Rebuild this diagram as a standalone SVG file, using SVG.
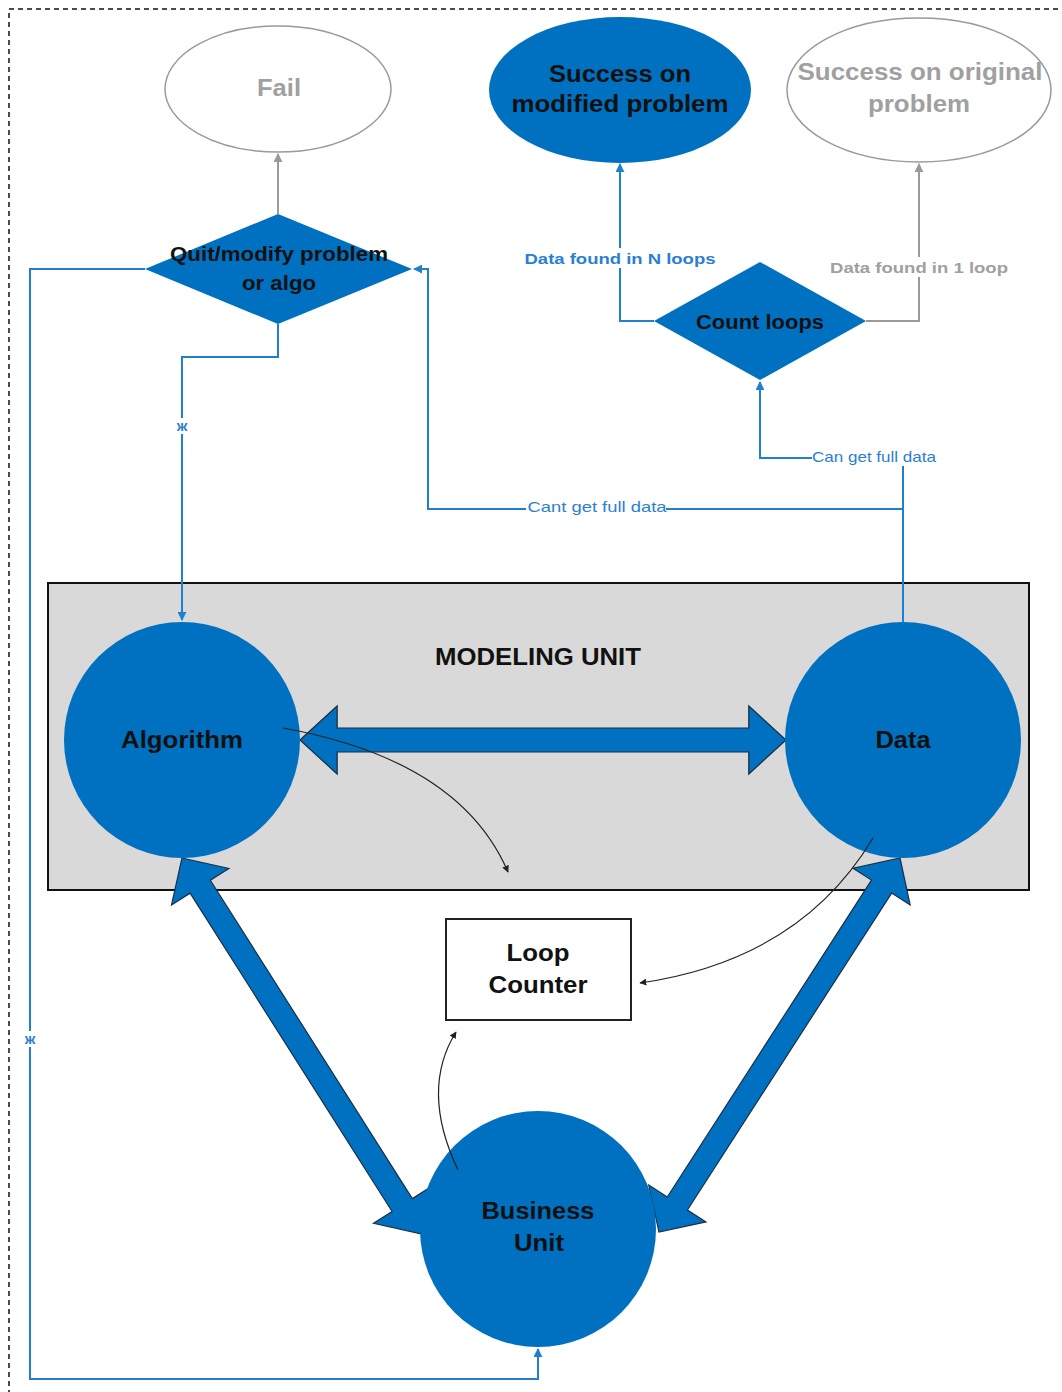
<svg xmlns="http://www.w3.org/2000/svg" width="1062" height="1392" viewBox="0 0 1062 1392">
  <defs>
    <style>
      .t { font-family: "Liberation Sans", Arial, sans-serif; font-weight: bold; text-anchor: middle; }
      .big { font-size: 23px; fill: #111; }
      .mid { font-size: 20px; fill: #111; }
      .grey { fill: #a0a0a0; }
      .lbl { font-family: "Liberation Sans", Arial, sans-serif; text-anchor: middle; font-size: 15px; fill: #2a7fd4; }
      .lblg { fill: #a0a0a0; }
      .blue { fill: #0070c0; }
      .open { fill: #fff; stroke: #9a9a9a; stroke-width: 1.5; }
      .wire { fill: none; stroke: #2080d0; stroke-width: 2; }
      .wireg { fill: none; stroke: #9a9a9a; stroke-width: 2; }
      .thin { fill: none; stroke: #222; stroke-width: 1.2; }
      .fat { fill: #0070c0; stroke: #1b2f45; stroke-width: 1.2; stroke-linejoin: miter; }
      .bg { fill: #fff; }
    </style>
    <marker id="ab" viewBox="0 0 10 10" refX="9" refY="5" markerWidth="9" markerHeight="9" markerUnits="userSpaceOnUse" orient="auto">
      <path d="M0,0 L10,5 L0,10 z" fill="#2080d0"/>
    </marker>
    <marker id="ag" viewBox="0 0 10 10" refX="9" refY="5" markerWidth="9" markerHeight="9" markerUnits="userSpaceOnUse" orient="auto">
      <path d="M0,0 L10,5 L0,10 z" fill="#9a9a9a"/>
    </marker>
    <marker id="ak" viewBox="0 0 10 10" refX="9" refY="5" markerWidth="7" markerHeight="7" markerUnits="userSpaceOnUse" orient="auto">
      <path d="M0,0 L10,5 L0,10 z" fill="#222"/>
    </marker>
    <!-- double-headed block arrow of length 445 along +x -->
    <polygon id="dbl445" points="0,0 34,-34 34,-12 411,-12 411,-34 445,0 411,34 411,12 34,12 34,34"/>
  </defs>

  <!-- page frame -->
  <rect x="9" y="9" width="1100" height="1420" fill="none" stroke="#111" stroke-width="1.5" stroke-dasharray="5,4"/>

  <!-- modeling unit container -->
  <g id="modeling-unit">
    <rect x="48" y="583" width="981" height="307" fill="#d9d9d9" stroke="#111" stroke-width="2"/>
    <text class="t big" x="538" y="665" textLength="206" lengthAdjust="spacingAndGlyphs">MODELING UNIT</text>
  </g>

  <!-- connectors -->
  <g id="connectors">
    <!-- quit -> fail -->
    <path class="wireg" d="M278,214 L278,154" marker-end="url(#ag)"/>
    <!-- quit -> algorithm -->
    <path class="wire" d="M278,324 L278,357 L182,357 L182,620" marker-end="url(#ab)"/>
    <!-- quit -> business unit -->
    <path class="wire" d="M145,269 L30,269 L30,1379 L538,1379 L538,1349" marker-end="url(#ab)"/>
    <!-- data -> quit (cant get full data) -->
    <path class="wire" d="M903,622 L903,509 L428,509 L428,269 L414,269" marker-end="url(#ab)"/>
    <!-- data -> count loops (can get full data) -->
    <path class="wire" d="M903,509 L903,458 L760,458 L760,382" marker-end="url(#ab)"/>
    <!-- count loops -> success on modified -->
    <path class="wire" d="M654,321 L620,321 L620,164" marker-end="url(#ab)"/>
    <!-- count loops -> success on original -->
    <path class="wireg" d="M866,321 L919,321 L919,164" marker-end="url(#ag)"/>

    <!-- labels -->
    <rect class="bg" x="174" y="418" width="16" height="16"/>
    <text class="lbl" x="182" y="431" font-weight="bold" font-size="14">ж</text>
    <rect class="bg" x="22" y="1031" width="16" height="16"/>
    <text class="lbl" x="30" y="1044" font-weight="bold" font-size="14">ж</text>
    <rect class="bg" x="526" y="498" width="140" height="18"/>
    <text class="lbl" x="597" y="512" textLength="139" lengthAdjust="spacingAndGlyphs">Cant get full data</text>
    <rect class="bg" x="812" y="449" width="125" height="17"/>
    <text class="lbl" x="874" y="462" font-size="14" textLength="124" lengthAdjust="spacingAndGlyphs">Can get full data</text>
    <rect class="bg" x="524" y="248" width="193" height="20"/>
    <text class="lbl" x="620" y="264" font-weight="bold" font-size="16" textLength="191" lengthAdjust="spacingAndGlyphs">Data found in N loops</text>
    <rect class="bg" x="829" y="257" width="180" height="20"/>
    <text class="lbl lblg" x="919" y="273" font-weight="bold" font-size="16" textLength="178" lengthAdjust="spacingAndGlyphs">Data found in 1 loop</text>

    <!-- block arrows -->
    <use href="#dbl445" class="fat" transform="translate(300,740) scale(1.092,1)"/>
    <use href="#dbl445" class="fat" transform="translate(182,858) rotate(57.6)"/>
    <use href="#dbl445" class="fat" transform="translate(900,858) rotate(122.8)"/>
  </g>

  <!-- outcome nodes -->
  <g id="fail">
    <ellipse class="open" cx="278" cy="89" rx="113" ry="63"/>
    <text class="t big grey" x="279" y="96" textLength="44" lengthAdjust="spacingAndGlyphs">Fail</text>
  </g>
  <g id="success-modified">
    <ellipse class="blue" cx="620" cy="90" rx="131" ry="73"/>
    <text class="t big" x="620" y="82" textLength="142" lengthAdjust="spacingAndGlyphs">Success on</text>
    <text class="t big" x="620" y="112" textLength="217" lengthAdjust="spacingAndGlyphs">modified problem</text>
  </g>
  <g id="success-original">
    <ellipse class="open" cx="919" cy="90" rx="132" ry="72"/>
    <text class="t big grey" x="920" y="80" textLength="245" lengthAdjust="spacingAndGlyphs">Success on original</text>
    <text class="t big grey" x="919" y="112" textLength="102" lengthAdjust="spacingAndGlyphs">problem</text>
  </g>

  <!-- decisions -->
  <g id="quit-modify">
    <polygon class="blue" points="278,214 412,269 278,324 145,269"/>
    <text class="t mid" x="279" y="261" textLength="218" lengthAdjust="spacingAndGlyphs">Quit/modify problem</text>
    <text class="t mid" x="279" y="290" textLength="74" lengthAdjust="spacingAndGlyphs">or algo</text>
  </g>
  <g id="count-loops">
    <polygon class="blue" points="760,262 866,321 760,380 654,321"/>
    <text class="t mid" x="760" y="329" textLength="128" lengthAdjust="spacingAndGlyphs">Count loops</text>
  </g>

  <!-- units -->
  <g id="algorithm">
    <circle class="blue" cx="182" cy="740" r="118"/>
    <text class="t big" x="182" y="748" textLength="122" lengthAdjust="spacingAndGlyphs">Algorithm</text>
  </g>
  <g id="data">
    <circle class="blue" cx="903" cy="740" r="118"/>
    <text class="t big" x="903" y="748" textLength="55" lengthAdjust="spacingAndGlyphs">Data</text>
  </g>
  <g id="business-unit">
    <circle class="blue" cx="538" cy="1229" r="118"/>
    <text class="t big" x="538" y="1219" textLength="113" lengthAdjust="spacingAndGlyphs">Business</text>
    <text class="t big" x="539" y="1251" textLength="50" lengthAdjust="spacingAndGlyphs">Unit</text>
  </g>
  <g id="loop-counter">
    <rect x="446" y="919" width="185" height="101" fill="#fff" stroke="#222" stroke-width="2"/>
    <text class="t big" x="538" y="961" textLength="63" lengthAdjust="spacingAndGlyphs">Loop</text>
    <text class="t big" x="538" y="993" textLength="99" lengthAdjust="spacingAndGlyphs">Counter</text>
  </g>

  <!-- thin curved flows, drawn over the units -->
  <g id="flows">
    <path class="thin" d="M283,728 Q460,760 508,872" marker-end="url(#ak)"/>
    <path class="thin" d="M873,838 Q800,960 640,983" marker-end="url(#ak)"/>
    <path class="thin" d="M458,1170 Q420,1090 456,1032" marker-end="url(#ak)"/>
  </g>
</svg>
